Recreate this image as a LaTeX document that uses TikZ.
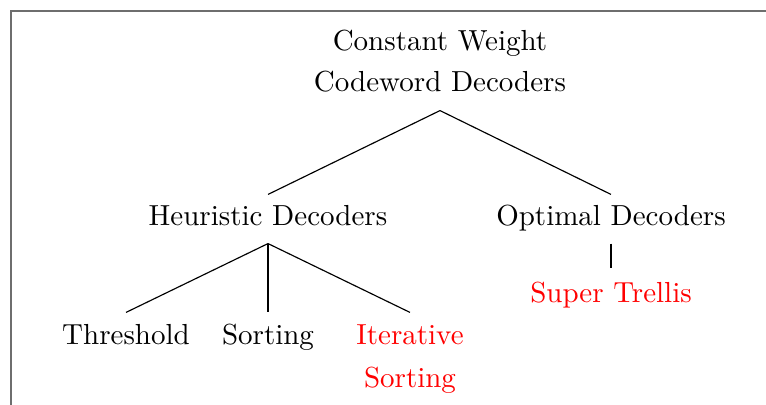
\documentclass[tikz,border=0pt]{standalone}
\begin{document}
\begin{tikzpicture}[x=0.3448pt,y=-0.3448pt,
  lbl/.style={inner sep=0pt, anchor=base, font=\fontsize{10}{12}\selectfont},
  mid/.style={lbl, text height=10.34pt, text depth=6.2pt},
  leaf/.style={lbl, text height=10.69pt},
  hl/.style={text=red},
  frame/.style={draw=black!57, line width=0.6pt},
  edge/.style={draw=black, line width=0.4pt}]
\useasboundingbox (0,0) rectangle (766,404);
\clip (0,0) rectangle (766,404);
\draw[frame] (10.9,10.9) rectangle (900,500);
\node[lbl] (roottop) at (440,51) {Constant Weight};
\node[lbl, text depth=6.55pt] (root) at (440,91) {Codeword Decoders};
\node[mid] (heur) at (268,225) {Heuristic Decoders};
\node[mid] (opt) at (611,225) {Optimal Decoders};
\node[lbl, hl, text height=11.38pt] (super) at (611,302) {Super Trellis};
\node[leaf] (thr) at (126,344) {Threshold};
\node[leaf] (sort) at (268,344) {Sorting};
\node[leaf, hl] (iter) at (410,344) {Iterative};
\node[lbl, hl] (itersort) at (410,387) {Sorting};
\draw[edge] (root.south) -- (heur.north);
\draw[edge] (root.south) -- (opt.north);
\draw[edge] (heur.south) -- (thr.north);
\draw[edge] (heur.south) -- (sort.north);
\draw[edge] (heur.south) -- (iter.north);
\draw[edge] (opt.south) -- (super.north);
\end{tikzpicture}
\end{document}
